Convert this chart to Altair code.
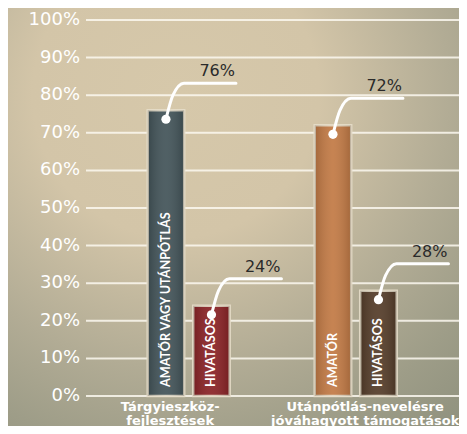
import altair as alt
import pandas as pd

# ---------------- data ----------------
CATEGORIES = ["Tárgyieszköz-\nfejlesztések", "Utánpótlás-nevelésre\njóváhagyott támogatások"]
BAR_LABELS = [["AMATŐR VAGY UTÁNPÓTLÁS", "HIVATÁSOS"], ["AMATŐR", "HIVATÁSOS"]]
VALUES = [[76, 24], [72, 28]]
BAR_COLORS = [["#435459", "#8a2326"], ["#c27a45", "#553d2a"]]
Y_TICKS = [0, 10, 20, 30, 40, 50, 60, 70, 80, 90, 100]
Y_TICK_LABELS = ["0%", "10%", "20%", "30%", "40%", "50%", "60%", "70%", "80%", "90%", "100%"]

# ---------------- layout ----------------
W, H = 373, 376
PX = H / 100.0            # pixels per percent
GROUP0, GROUP_STEP, BAR_STEP, BAR_W = 102.7, 167.0, 45.5, 36.5
LABEL_SHIFT = [-18.5, 9.5]
FONT = "DejaVu Sans"

bars, path, cats = [], [], []
for g, cat in enumerate(CATEGORIES):
    gc = GROUP0 + g * GROUP_STEP
    cats.append({"x": gc + LABEL_SHIFT[g], "y": 0, "label": cat})
    for s in range(2):
        c = gc + (s - 0.5) * BAR_STEP
        v = VALUES[g][s]
        bid = f"{g}-{s}"
        bars.append({"id": bid, "c": c, "x0": c - BAR_W / 2, "x1": c + BAR_W / 2,
                     "v": v, "color": BAR_COLORS[g][s], "label": BAR_LABELS[g][s],
                     "pct": f"{v}%", "dot": v - 9 / PX})
        for k, (dx, dy) in enumerate([(0, -9), (7, 15), (18, 27), (70, 27)]):
            path.append({"id": bid, "k": k, "x": c + dx, "y": v + dy / PX})

bars_df = pd.DataFrame(bars)
path_df = pd.DataFrame(path)
cats_df = pd.DataFrame(cats)
ticks_df = pd.DataFrame({"t": Y_TICKS, "lab": Y_TICK_LABELS})

xs = alt.Scale(domain=[0, W], nice=False, zero=False)
ys = alt.Scale(domain=[0, 100], nice=False)
YAX = alt.Axis(values=Y_TICKS, labels=False, title=None,
               grid=False, domain=False, ticks=False, zindex=1)

def X(f):
    return alt.X(f, scale=xs, axis=None)

def Y(f):
    return alt.Y(f, scale=ys, axis=YAX)

bg = alt.Chart(pd.DataFrame({"a": [0]})).mark_rect(
    fill={"gradient": "radial", "x1": 0.42, "y1": 0.12, "r1": 0,
          "x2": 0.42, "y2": 0.12, "r2": 1,
          "stops": [{"offset": 0, "color": "#d6c8aa"},
                    {"offset": 0.2, "color": "#d3c5a8"},
                    {"offset": 0.38, "color": "#b2ac95"},
                    {"offset": 0.5, "color": "#9e9d88"},
                    {"offset": 0.62, "color": "#8e907d"},
                    {"offset": 1, "color": "#7f8172"}]}
).encode(x=alt.value(-78), x2=alt.value(W), y=alt.value(-12), y2=alt.value(706))

grid = alt.Chart(ticks_df).mark_rule(color="#fbf8f0", strokeWidth=2, opacity=0.85).encode(
    y=Y("t:Q"), x=alt.value(0), x2=alt.value(W))

tick_text = alt.Chart(ticks_df).mark_text(
    align="right", baseline="middle", dx=-6, font=FONT, fontSize=18, color="#ffffff"
).encode(y=Y("t:Q"), x=alt.value(0), text="lab:N")

base = alt.Chart(bars_df)
bar_rect = base.mark_rect(stroke="#e6ddc9", strokeWidth=2.5, strokeOpacity=0.9).encode(
    x=X("x0:Q"), x2="x1:Q", y=Y("v:Q"), y2=alt.datum(0),
    fill=alt.Fill("color:N", scale=None)
)
bar_shade = base.mark_rect(
    fill={"gradient": "linear", "x1": 0, "y1": 0, "x2": 1, "y2": 0,
          "stops": [{"offset": 0, "color": "rgba(0,0,0,0.16)"},
                    {"offset": 0.5, "color": "rgba(255,255,255,0.07)"},
                    {"offset": 1, "color": "rgba(0,0,0,0.16)"}]}
).encode(x=X("x0:Q"), x2="x1:Q", y=Y("v:Q"), y2=alt.datum(0))

bar_text = base.mark_text(angle=270, align="left", baseline="middle", color="#ffffff",
                          font="Lato", fontWeight="bold", fontSize=12.6, yOffset=-9).encode(
    x=X("c:Q"), y=alt.datum(0), text="label:N")

callout = alt.Chart(path_df).mark_line(interpolate="monotone", color="#ffffff",
                                       strokeWidth=3, strokeCap="round").encode(
    x=X("x:Q"), y=Y("y:Q"), detail="id:N", order="k:Q")

dots = base.mark_circle(color="#ffffff", opacity=1, size=85).encode(
    x=X("c:Q"), y=Y("dot:Q"))

pct = base.mark_text(align="right", baseline="alphabetic", dx=69, dy=-34,
                     font=FONT, fontSize=16, color="#2a2a2a").encode(
    x=X("c:Q"), y=Y("v:Q"), text="pct:N")

cat_text = alt.Chart(cats_df).mark_text(align="center", baseline="alphabetic", yOffset=15,
                                        lineBreak="\n", lineHeight=13.5, font=FONT,
                                        fontWeight="bold", fontSize=13, color="#ffffff").encode(
    x=X("x:Q"), y=Y("y:Q"), text="label:N")

chart = alt.layer(bg, grid, tick_text, bar_rect, bar_shade, bar_text, callout, dots, pct, cat_text).properties(
    width=W, height=H,
    autosize=alt.AutoSizeParams(type="none"),
    padding={"left": 78, "top": 12, "right": 0, "bottom": 30},
).configure_view(stroke=None).configure(background="#c9bc9f")

chart.save("out.html", embed_options={"renderer": "svg", "actions": False})
